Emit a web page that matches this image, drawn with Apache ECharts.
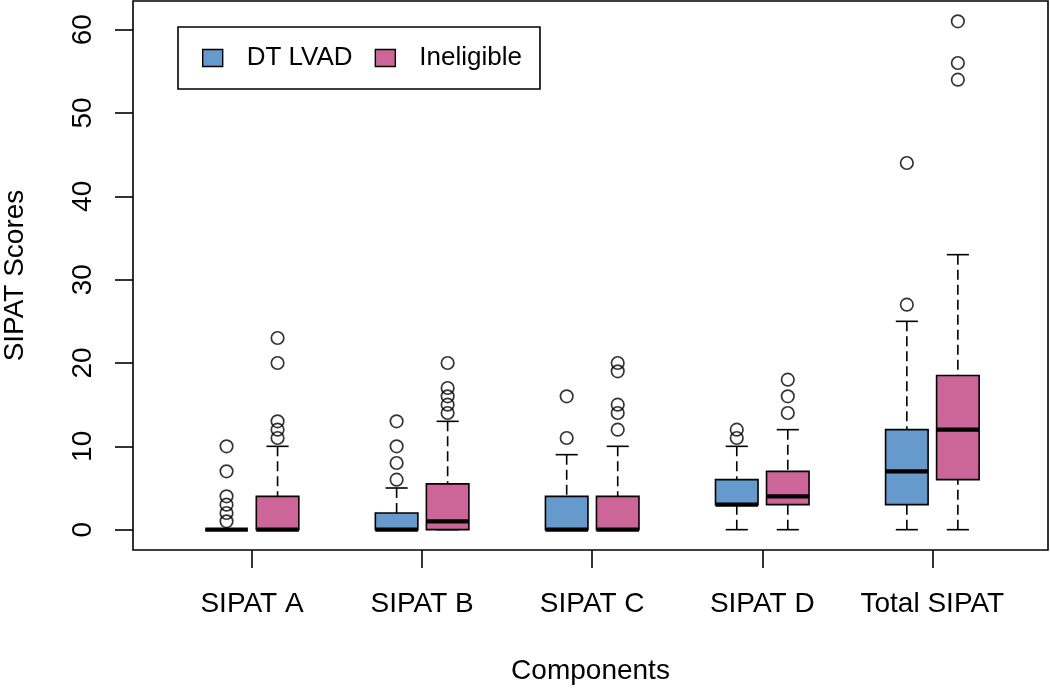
<!DOCTYPE html>
<html>
<head>
<meta charset="utf-8">
<script src="https://cdn.jsdelivr.net/npm/echarts@6/dist/echarts.min.js"></script>
<style>
  html, body { margin: 0; padding: 0; background: #fff; }
  #chart { width: 1050px; height: 689px; }
</style>
</head>
<body>
<div id="chart"></div>
<script>
// ---- data ----
const categories = ['SIPAT A', 'SIPAT B', 'SIPAT C', 'SIPAT D', 'Total SIPAT'];
const seriesNames = ['DT LVAD', 'Ineligible'];
// [min whisker, Q1, median, Q3, max whisker]
const dtStats = [
  [0, 0, 0, 0, 0],
  [0, 0, 0, 2, 5],
  [0, 0, 0, 4, 9],
  [0, 3, 3, 6, 10],
  [0, 3, 7, 12, 25]
];
const ineStats = [
  [0, 0, 0, 4, 10],
  [0, 0, 1, 5.5, 13],
  [0, 0, 0, 4, 10],
  [0, 3, 4, 7, 12],
  [0, 6, 12, 18.5, 33]
];
const dtOutliers = [
  [1, 2, 3, 4, 7, 10],
  [6, 8, 10, 13],
  [11, 16],
  [11, 12],
  [27, 44]
];
const ineOutliers = [
  [11, 12, 13, 20, 23],
  [14, 15, 16, 17, 20],
  [12, 14, 15, 19, 20],
  [14, 16, 18],
  [54, 56, 61]
];
const yTicks = [0, 10, 20, 30, 40, 50, 60];

// ---- styling / layout ----
const COLORS = ['#6699CC', '#CC6699'];
const FONT = "'Liberation Sans', Arial, Helvetica, sans-serif";
const OFFSET = 0.15;     // box offset from category centre (axis units)
const BOX_HALF = 0.125;  // half box width (axis units)
const CAP_HALF = 0.065;  // half staple width (axis units)
const LW = 1.6;
const positions = categories.map((c, i) => i + 1);

function statsData(stats) {
  return stats.map((s, i) => [positions[i]].concat(s));
}
function outlierData(outs, offset) {
  const out = [];
  outs.forEach((arr, i) => arr.forEach(v => out.push([positions[i] + offset, v])));
  return out;
}

function boxRenderer(offset, color) {
  return function (params, api) {
    const x = api.value(0) + offset;
    const pMin = api.coord([x, api.value(1)]);
    const pQ1 = api.coord([x, api.value(2)]);
    const pMed = api.coord([x, api.value(3)]);
    const pQ3 = api.coord([x, api.value(4)]);
    const pMax = api.coord([x, api.value(5)]);
    const halfBox = api.size([BOX_HALF, 0])[0];
    const halfCap = api.size([CAP_HALF, 0])[0];
    const cx = pMed[0];
    const dash = { stroke: '#000', lineWidth: LW, lineDash: [10, 5] };
    const solid = { stroke: '#000', lineWidth: LW };
    return {
      type: 'group',
      children: [
        { type: 'line', shape: { x1: cx, y1: pMax[1], x2: cx, y2: pQ3[1] }, style: dash },
        { type: 'line', shape: { x1: cx, y1: pMin[1], x2: cx, y2: pQ1[1] }, style: dash },
        { type: 'line', shape: { x1: cx - halfCap, y1: pMax[1], x2: cx + halfCap, y2: pMax[1] }, style: solid },
        { type: 'line', shape: { x1: cx - halfCap, y1: pMin[1], x2: cx + halfCap, y2: pMin[1] }, style: solid },
        { type: 'rect', shape: { x: cx - halfBox, y: pQ3[1], width: 2 * halfBox, height: pQ1[1] - pQ3[1] },
          style: { fill: color, stroke: '#000', lineWidth: LW } },
        { type: 'line', shape: { x1: cx - halfBox, y1: pMed[1], x2: cx + halfBox, y2: pMed[1] },
          style: { stroke: '#000', lineWidth: 4.2 } }
      ]
    };
  };
}

const chart = echarts.init(document.getElementById('chart'), null, { renderer: 'canvas' });

const option = {
  animation: false,
  backgroundColor: '#fff',
  textStyle: { fontFamily: FONT, color: '#000' },
  grid: {
    left: 133, top: 1, right: 2, bottom: 139,
    containLabel: false,
    outerBoundsMode: 'none',
    show: true, borderColor: '#000', borderWidth: LW, backgroundColor: 'transparent'
  },
  legend: {
    data: seriesNames,
    left: 178, top: 27,
    orient: 'horizontal',
    icon: 'rect',
    itemWidth: 20, itemHeight: 17, itemGap: 22,
    padding: [18, 18, 18, 24],
    borderColor: '#000', borderWidth: LW,
    itemStyle: { borderColor: '#000', borderWidth: 1.4 },
    textStyle: { fontFamily: FONT, fontSize: 26, color: '#000', padding: [0, 0, 0, 19] },
    selectedMode: false
  },
  xAxis: {
    type: 'value',
    min: 0.3, max: 5.68,
    splitLine: { show: false },
    axisLine: { show: false, onZero: false },
    axisTick: { show: true, customValues: positions, length: 18, lineStyle: { color: '#000', width: LW } },
    axisLabel: {
      customValues: positions,
      formatter: v => categories[Math.round(v) - 1] || '',
      fontFamily: FONT, fontSize: 28, color: '#000', margin: 40
    },
    name: 'Components',
    nameLocation: 'middle',
    nameGap: 107,
    nameTextStyle: { fontFamily: FONT, fontSize: 28, color: '#000' }
  },
  yAxis: {
    type: 'value',
    min: -2.44, max: 63.44,
    splitLine: { show: false },
    axisLine: { show: false, onZero: false },
    axisTick: { show: true, customValues: yTicks, length: 18, lineStyle: { color: '#000', width: LW } },
    axisLabel: {
      customValues: yTicks,
      rotate: 90,
      fontFamily: FONT, fontSize: 28, color: '#000', margin: 36
    },
    name: 'SIPAT Scores',
    nameLocation: 'middle',
    nameRotate: 90,
    nameGap: 104,
    nameTextStyle: { fontFamily: FONT, fontSize: 28, color: '#000' }
  },
  series: [
    {
      name: seriesNames[0], type: 'custom', color: COLORS[0],
      itemStyle: { color: COLORS[0] },
      renderItem: boxRenderer(-OFFSET, COLORS[0]),
      encode: { x: 0, y: [1, 2, 3, 4, 5] },
      data: statsData(dtStats), silent: true, z: 2
    },
    {
      name: seriesNames[1], type: 'custom', color: COLORS[1],
      itemStyle: { color: COLORS[1] },
      renderItem: boxRenderer(OFFSET, COLORS[1]),
      encode: { x: 0, y: [1, 2, 3, 4, 5] },
      data: statsData(ineStats), silent: true, z: 2
    },
    {
      name: 'DT LVAD outliers', type: 'scatter',
      symbol: 'circle', symbolSize: 12.5,
      itemStyle: { color: 'rgba(0,0,0,0)', borderColor: '#000', borderWidth: 1.7 },
      data: outlierData(dtOutliers, -OFFSET), silent: true, z: 3
    },
    {
      name: 'Ineligible outliers', type: 'scatter',
      symbol: 'circle', symbolSize: 12.5,
      itemStyle: { color: 'rgba(0,0,0,0)', borderColor: '#000', borderWidth: 1.7 },
      data: outlierData(ineOutliers, OFFSET), silent: true, z: 3
    }
  ]
};
chart.setOption(option);
</script>
</body>
</html>
